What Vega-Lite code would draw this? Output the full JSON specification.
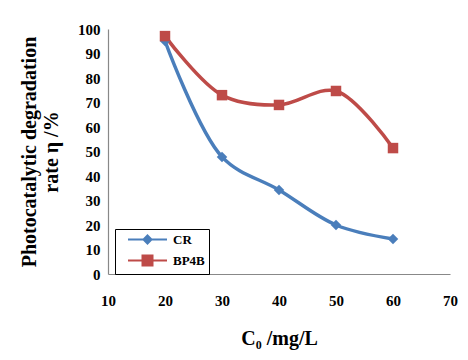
{
  "$schema": "https://vega.github.io/schema/vega-lite/v6.json",
  "width": 342,
  "height": 245,
  "autosize": "none",
  "padding": {"left": 108, "top": 29, "right": 18, "bottom": 86},
  "background": "white",
  "config": {
    "view": {"stroke": null},
    "font": "Liberation Serif",
    "axis": {"grid": false, "ticks": false, "domainColor": "#888888", "domainWidth": 1.2,
             "labelFont": "Liberation Serif", "labelFontWeight": "bold", "labelFontSize": 15, "labelColor": "black",
             "titleFont": "Liberation Serif", "titleFontWeight": "bold", "titleFontSize": 20, "titleColor": "black"}
  },
  "data": {"values": [
    {"c": 20, "rate": 95.1, "series": "CR"},
    {"c": 30, "rate": 47.8, "series": "CR"},
    {"c": 40, "rate": 34.3, "series": "CR"},
    {"c": 50, "rate": 20.0, "series": "CR"},
    {"c": 60, "rate": 14.3, "series": "CR"},
    {"c": 20, "rate": 97.1, "series": "BP4B"},
    {"c": 30, "rate": 73.0, "series": "BP4B"},
    {"c": 40, "rate": 69.0, "series": "BP4B"},
    {"c": 50, "rate": 74.7, "series": "BP4B"},
    {"c": 60, "rate": 51.4, "series": "BP4B"}
  ]},
  "encoding": {
    "x": {"field": "c", "type": "quantitative",
          "scale": {"domain": [10, 70], "nice": false},
          "axis": {"values": [10, 20, 30, 40, 50, 60, 70], "labelPadding": 19, "title": "C₀ /mg/L", "titlePadding": 20, "labelFlush": false}},
    "y": {"field": "rate", "type": "quantitative",
          "scale": {"domain": [0, 100], "nice": false},
          "axis": {"values": [0, 10, 20, 30, 40, 50, 60, 70, 80, 90, 100], "labelPadding": 8, "labelFlush": false,
                   "title": ["Photocatalytic degradation", "rate η /%"], "titlePadding": 16, "titleLineHeight": 22}}
  },
  "layer": [
    {
      "mark": {"type": "line", "interpolate": "catmull-rom", "strokeWidth": 3.5},
      "encoding": {
        "color": {"field": "series", "type": "nominal",
                  "scale": {"domain": ["CR", "BP4B"], "range": ["#4A7EBB", "#BE4B48"]},
                  "legend": {"title": null, "orient": "none", "legendX": 7, "legendY": 200,
                             "direction": "vertical",
                             "strokeColor": "black", "padding": 4, "symbolOffset": 22,
                             "labelFont": "Liberation Serif", "labelFontWeight": "bold", "labelFontSize": 13, "labelColor": "black",
                             "symbolSize": 100, "rowPadding": 3, "labelOffset": 19,
                             "symbolStrokeWidth": 2,
                             "encode": {"symbols": {"update": {
                               "shape": {"signal": "datum.value === 'CR' ? 'M-3.9,0H3.9M0,-0.8L0.8,0L0,0.8L-0.8,0Z' : 'M-3.9,0H3.9M-1,-1H1V1H-1Z'"},
                               "fill": {"signal": "datum.value === 'CR' ? '#4A7EBB' : '#BE4B48'"},
                               "fillOpacity": {"value": 1}
                             }}}}}
      }
    },
    {
      "transform": [{"filter": "datum.series === 'CR'"}],
      "mark": {"type": "point", "filled": true, "opacity": 1, "shape": "diamond", "color": "#4A7EBB", "size": 110}
    },
    {
      "transform": [{"filter": "datum.series === 'BP4B'"}],
      "mark": {"type": "point", "filled": true, "opacity": 1, "shape": "square", "color": "#BE4B48", "size": 110}
    }
  ]
}
